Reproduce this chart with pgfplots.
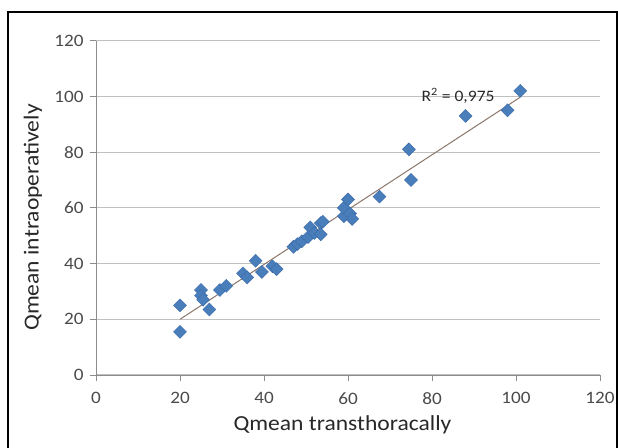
\documentclass[border=0pt]{standalone}
\usepackage{pgfplots}
\pgfplotsset{compat=1.18}
\usepackage{fontspec}
\setmainfont{Carlito}
\newfontfamily\labfont{Carlito}[FakeStretch=1.1]
\newfontfamily\tickfont{Carlito}[FakeStretch=1.1]
\definecolor{mblue}{RGB}{74,126,187}
\definecolor{mblueedge}{RGB}{60,108,170}
\definecolor{gridgray}{RGB}{192,192,192}
\definecolor{axgray}{RGB}{140,140,140}
\definecolor{trend}{RGB}{140,118,108}
\definecolor{ticktext}{RGB}{75,75,75}
\definecolor{labtext}{RGB}{40,40,40}
\begin{document}
\begin{tikzpicture}[x=1bp,y=1bp]
\path[use as bounding box] (0,0) rectangle (618,448);
\fill[white] (0,0) rectangle (618,448);
\draw[black, line width=1.6bp] (8,-5) -- (8,436) -- (617,436) -- (617,-5);
\begin{axis}[
  at={(96bp,73bp)}, anchor=south west,
  scale only axis, width=504bp, height=334.3bp,
  xmin=0, xmax=120, ymin=0, ymax=120,
  xtick={0,20,...,120}, ytick={0,20,...,120},
  axis lines=left,
  axis line style={draw=axgray, line width=0.9bp, -},
  tick align=outside,
  major tick length=6bp,
  tick style={draw=axgray, line width=0.8bp},
  ymajorgrids,
  grid style={draw=gridgray, line width=1bp},
  /pgf/number format/assume math mode=true,
  ticklabel style={font=\tickfont\fontsize{17.5}{17.5}\selectfont, text=ticktext},
  xticklabel style={yshift=-8bp},
  yticklabel style={xshift=-3bp},
  every axis x label/.style={at={(axis description cs:0.489,-0.1675)}, anchor=base},
  every axis y label/.style={at={(axis description cs:-0.125,0.471)}, rotate=90, anchor=center},
  label style={font=\labfont\fontsize{21.5}{21.5}\selectfont, text=labtext},
  xlabel={Qmean transthoracally},
  ylabel={Qmean intraoperatively},
  clip=false,
]
\addplot[only marks, mark=square*, mark size=4.6bp,
  mark options={rotate=45, fill=mblue, draw=mblueedge, line width=0.4bp}]
  coordinates {
  (20,25) (20,15.5) (25,30.5) (25,28.5) (25.5,27) (27,23.5) (29.5,30.5) (31,32)
  (35,36.5) (36,35) (38,41) (39.5,37) (42,39) (43,38) (47,46) (48,47) (49,48)
  (50.5,49.5) (51,53) (52,51) (53.5,54.5) (53.5,50.5) (54,55) (59,57) (59,60)
  (60,63) (60.5,58) (61,56) (67.5,64) (74.5,81) (75,70) (88,93) (98,95) (101,102)
  };
\addplot[trend, line width=1bp] coordinates {(20,20.0) (101,99.7)};
\node[anchor=base west, font=\labfont\fontsize{16}{16}\selectfont, text=labtext, inner sep=0pt]
  at (axis cs:77.5,98) {R\textsuperscript{2} = 0,975};
\end{axis}
\end{tikzpicture}
\end{document}
